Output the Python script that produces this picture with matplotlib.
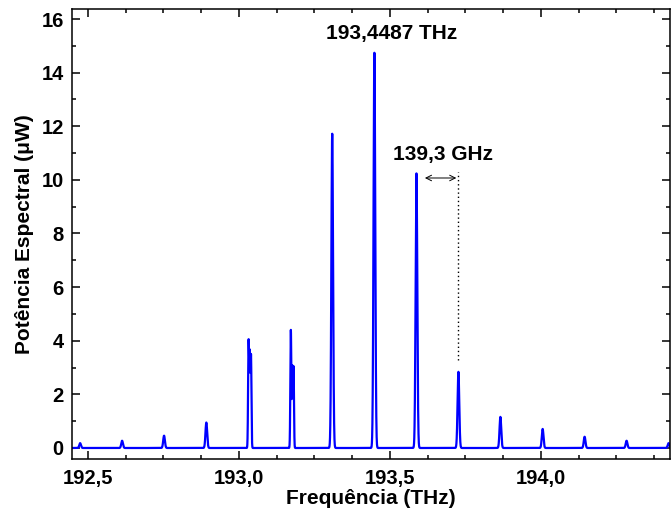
import numpy as np
import matplotlib
matplotlib.use("Agg")
import matplotlib.pyplot as plt
from matplotlib.ticker import MultipleLocator, FuncFormatter

plt.rcParams['font.family'] = ['Liberation Sans', 'DejaVu Sans']
plt.rcParams['font.weight'] = 'bold'

# peak centres (THz), heights (uW) and widths (THz)
centers = [192.474, 192.613, 192.752, 192.892,
           193.032, 193.036, 193.040,
           193.172, 193.177, 193.181,
           193.309, 193.4487, 193.588, 193.727, 193.866,
           194.006, 194.145, 194.284, 194.423]
heights = [0.18, 0.27, 0.46, 0.95,
           3.95, 3.4, 3.4,
           4.4, 3.0, 3.0,
           11.72, 14.74, 10.24, 2.84, 1.16,
           0.71, 0.42, 0.27, 0.18]
widths = [0.0028, 0.0028, 0.0028, 0.0028,
          0.0016, 0.0015, 0.0015,
          0.0016, 0.0014, 0.0014,
          0.0028, 0.0028, 0.0028, 0.0028, 0.0028,
          0.0028, 0.0028, 0.0028, 0.0028]

freq = np.linspace(192.44, 194.44, 20001)
power = np.zeros_like(freq)
for c, h, w in zip(centers, heights, widths):
    power += h * np.exp(-0.5 * ((freq - c) / w) ** 2)

fig = plt.figure(figsize=(6.72, 5.13), dpi=100)
ax = fig.add_axes([0.1071, 0.1053, 0.890, 0.877])

ax.plot(freq, power, color='#0000ff', lw=1.6)

# spacing marker between two adjacent modes
ax.plot([193.727, 193.727], [3.3, 10.3], color='black', lw=1, ls=(0, (1, 2)))
ax.annotate('', xy=(193.616, 10.07), xytext=(193.72, 10.07),
            arrowprops=dict(arrowstyle='<->', color='black', lw=0.7,
                            shrinkA=0, shrinkB=0))

ax.text(193.507, 15.45, '193,4487 THz', ha='center', va='center',
        fontsize=15, fontweight='bold')
ax.text(193.675, 10.93, '139,3 GHz', ha='center', va='center',
        fontsize=15, fontweight='bold')

ax.set_xlim(192.447, 194.428)
ax.set_ylim(-0.41, 16.37)

ax.xaxis.set_major_locator(MultipleLocator(0.5))
ax.xaxis.set_minor_locator(MultipleLocator(0.125))
ax.yaxis.set_major_locator(MultipleLocator(2))
ax.yaxis.set_minor_locator(MultipleLocator(1))
ax.xaxis.set_major_formatter(FuncFormatter(lambda v, p: f"{v:.1f}".replace('.', ',')))
ax.yaxis.set_major_formatter(FuncFormatter(lambda v, p: f"{v:.0f}"))

ax.tick_params(which='both', direction='in', top=True, right=True,
               labelsize=14.5, width=1.1)
ax.tick_params(axis='x', which='major', pad=7)
ax.tick_params(axis='y', which='major', pad=6)
ax.tick_params(which='major', length=6)
ax.tick_params(which='minor', length=3)
for s in ax.spines.values():
    s.set_linewidth(1.1)

ax.set_xlabel('Frequência (THz)', fontsize=15, fontweight='bold', labelpad=1)
ax.set_ylabel('Potência Espectral (μW)', fontsize=15, fontweight='bold', labelpad=5)

plt.savefig('out.png', dpi=100)
plt.close()
